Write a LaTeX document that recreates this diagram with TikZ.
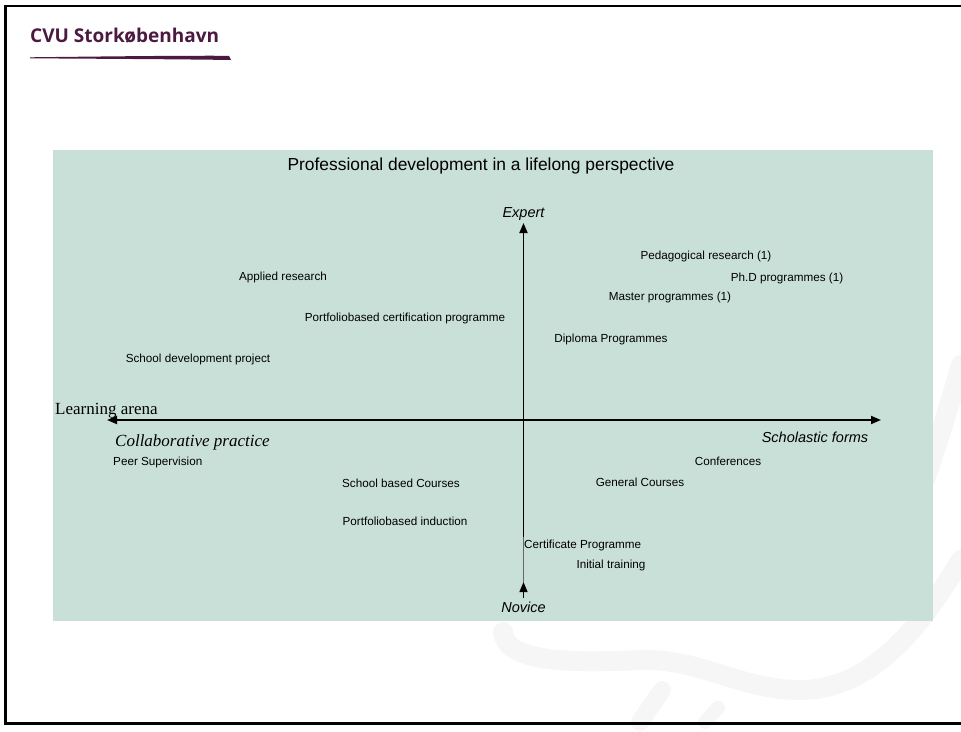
\documentclass[tikz,border=0pt]{standalone}
\usepackage{fontspec}
\setmainfont{Liberation Sans}
\newfontfamily\timesf{Liberation Serif}
\newfontfamily\hdrf{Open Sans}
\usetikzlibrary{arrows.meta}
\definecolor{boxgreen}{RGB}{201,224,216}
\definecolor{cvupurple}{RGB}{76,26,64}
\definecolor{wmark}{RGB}{246,246,246}
\begin{document}
\begin{tikzpicture}[x=1pt,y=-1pt,
  lbl/.style={inner sep=0pt,anchor=base,font=\fontsize{11.7}{13}\selectfont},
  axlbl/.style={inner sep=0pt,anchor=base,font=\fontsize{14.5}{16}\selectfont\itshape},
  axis/.style={line width=1.8pt,-{Triangle[length=10pt,width=8pt]}}]
\useasboundingbox (0,0) rectangle (961,731);
% watermark strokes
\draw[wmark,line width=20pt,line cap=round] (961,365) .. controls (945,420) and (935,450) .. (925,480);
\draw[wmark,line width=20pt,line cap=round] (503,632) .. controls (505,660) and (560,664) .. (640,660)
  .. controls (700,658) and (740,690) .. (800,690) .. controls (880,690) and (930,610) .. (961,560);
\draw[wmark,line width=18pt,line cap=round] (662,690) -- (640,722);
\draw[wmark,line width=14pt,line cap=round] (718,708) -- (705,722);
% frame
\draw[line width=2.6pt] (961,6) -- (5.5,6) -- (5.5,723.5) -- (961,723.5);
% header
\node[inner sep=0pt,anchor=base west,text=cvupurple,font=\hdrf\bfseries\fontsize{19}{21}\selectfont] (hdr) at (30,42) {CVU Storkøbenhavn};
\fill[cvupurple] (30,57.3) .. controls (100,56.5) and (180,55.5) .. (229,55.8) -- (231,60) .. controls (180,59.2) and (100,58.8) .. (30,58.3) -- cycle;
% green panel
\fill[boxgreen] (53,150) rectangle (932.5,621);
\node[inner sep=0pt,anchor=base,font=\fontsize{17.4}{20}\selectfont] (title) at (481,170) {Professional development in a lifelong perspective};
% axes
\coordinate (vtop) at (523.5,223);
\coordinate (vmid) at (523.5,537);
\coordinate (vlow) at (523.5,582);
\coordinate (vbot) at (523.5,598);
\coordinate (hl) at (107,420);
\coordinate (hr) at (881,420);
\draw[axis] (vmid) -- (vtop);
\draw[line width=0.6pt,black!60] (vmid) -- (vlow);
\draw[line width=1.4pt,-{Triangle[length=10pt,width=8pt]}] (vbot) -- (vlow);
\draw[axis,{Triangle[length=10pt,width=8pt]}-{Triangle[length=10pt,width=8pt]}] (hl) -- (hr);
% axis labels
\node[axlbl] (expert) at (523.5,217) {Expert};
\node[axlbl] (novice) at (523.5,612) {Novice};
\node[axlbl] (schol) at (815,442) {Scholastic forms};
\node[inner sep=0pt,anchor=base west,font=\timesf\fontsize{17}{19}\selectfont] (arena) at (55,414) {Learning arena};
\node[inner sep=0pt,anchor=base west,font=\timesf\itshape\fontsize{17}{19}\selectfont] (collab) at (115,446) {Collaborative practice};
% labels
\node[lbl] (pedres) at (706,259) {Pedagogical research (1)};
\node[lbl] (phd) at (787,281) {Ph.D programmes (1)};
\node[lbl] (master) at (670,300) {Master programmes (1)};
\node[lbl] (diploma) at (611,342) {Diploma Programmes};
\node[lbl] (applied) at (283,280) {Applied research};
\node[lbl] (pcert) at (405,321) {Portfoliobased certification programme};
\node[lbl] (sdp) at (198,362) {School development project};
\node[lbl,anchor=base west] (peer) at (113,465) {Peer Supervision};
\node[lbl] (sbc) at (401,487) {School based Courses};
\node[lbl] (pind) at (405,525) {Portfoliobased induction};
\node[lbl] (conf) at (728,465) {Conferences};
\node[lbl] (gen) at (640,486) {General Courses};
\node[lbl,anchor=base west] (cert) at (524,548) {Certificate Programme};
\node[lbl] (init) at (611,568) {Initial training};
\end{tikzpicture}
\end{document}
